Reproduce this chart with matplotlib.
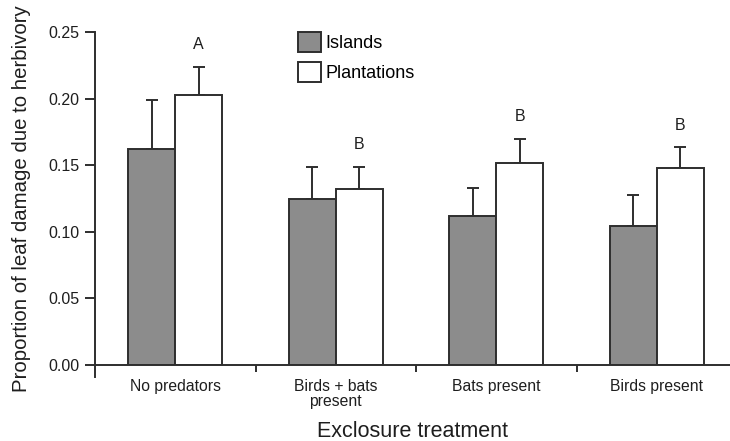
import matplotlib
matplotlib.use("Agg")
import matplotlib.pyplot as plt
import numpy as np

categories = ["No predators", "Birds + bats\npresent", "Bats present", "Birds present"]
islands = [0.162, 0.1245, 0.112, 0.104]
islands_err = [0.037, 0.024, 0.021, 0.0235]
plantations = [0.2025, 0.132, 0.1515, 0.148]
plantations_err = [0.0215, 0.017, 0.0185, 0.0155]
letters = ["A", "B", "B", "B"]
yticks = [0.00, 0.05, 0.10, 0.15, 0.20, 0.25]

plt.rcParams['font.family'] = ['Liberation Sans', 'DejaVu Sans']

fig = plt.figure(figsize=(7.30, 4.41), dpi=100)
ax = fig.add_axes([95/730, 1-365/441, 1-95/730, (365-32)/441])

x = np.arange(len(categories))
w = 0.293
edge = '#2e2e2e'
txt = '#1e1e1e'
lw = 1.4
ax.bar(x - w/2, islands, w, color='#8c8c8c', edgecolor=edge, linewidth=lw, label='Islands', zorder=2)
ax.bar(x + w/2, plantations, w, color='white', edgecolor=edge, linewidth=lw, label='Plantations', zorder=2)
ax.errorbar(x - w/2, islands, yerr=[np.zeros(4), islands_err], fmt='none', ecolor=edge,
            elinewidth=lw, capsize=4.5, capthick=lw, zorder=1)
ax.errorbar(x + w/2, plantations, yerr=[np.zeros(4), plantations_err], fmt='none', ecolor=edge,
            elinewidth=lw, capsize=4.5, capthick=lw, zorder=1)

for i, l in enumerate(letters):
    top = max(islands[i] + islands_err[i], plantations[i] + plantations_err[i])
    ax.text(x[i] + w/2, top + 0.0165, l, ha='center', va='center', fontsize=11.5, color=txt)

ax.set_xlim(-0.5, 3.456)
ax.set_ylim(0, 0.25)
ax.set_yticks(yticks)
ax.set_yticklabels([f"{v:.2f}" for v in yticks], fontsize=11.5, color=txt)
ax.tick_params(axis='y', direction='out', length=7, width=lw, color=edge, pad=4)

ax.set_xticks(x)
ax.set_xticklabels(categories, fontsize=11.3, color=txt, linespacing=1.05)
ax.tick_params(axis='x', length=0, pad=10)
ax.set_xticks(np.array([0.5, 1.5, 2.5]), minor=True)
ax.tick_params(axis='x', which='minor', direction='out', length=5, width=lw, color=edge)

for s in ['top', 'right']:
    ax.spines[s].set_visible(False)
ax.spines['left'].set_linewidth(lw)
ax.spines['bottom'].set_linewidth(lw)
ax.spines['left'].set_color(edge)
ax.spines['bottom'].set_color(edge)
ax.spines['left'].set_bounds(-0.009, 0.25)
ax.spines['left'].set_clip_on(False)

ax.set_xlabel("Exclosure treatment", fontsize=15.5, color=txt, labelpad=8)
ax.set_ylabel("Proportion of leaf damage due to herbivory", fontsize=14.7, color=txt, labelpad=13)

leg = ax.legend(loc='upper left', bbox_to_anchor=(298/730, 1-32/441), bbox_transform=fig.transFigure,
                frameon=False, fontsize=13, borderpad=0, borderaxespad=0,
                handlelength=1.28, handleheight=1.3, handletextpad=0.25, labelspacing=0.55)

fig.savefig("out.png", dpi=100)
